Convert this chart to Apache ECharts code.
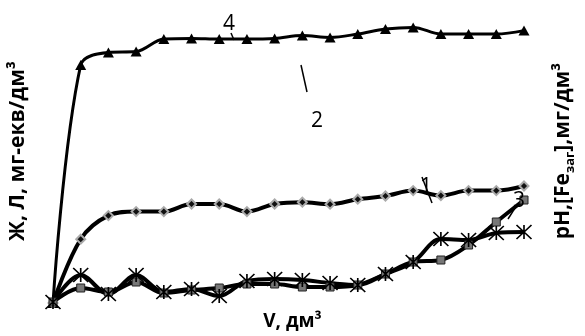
<!DOCTYPE html>
<html><head><meta charset="utf-8">
<script src="https://cdn.jsdelivr.net/npm/echarts@6/dist/echarts.min.js"></script>
<style>html,body{margin:0;padding:0;background:#fff}#c{width:585px;height:336px}</style>
</head><body><div id="c"></div>
<script>
const volumes = ['0','1','2','3','4','5','6','7','8','9','10','11','12','13','14','15','16','17'];
const curve4 = [0, 11.9, 12.53, 12.57, 13.2, 13.23, 13.2, 13.2, 13.23, 13.37, 13.28, 13.45, 13.7, 13.78, 13.45, 13.45, 13.45, 13.62];
const curve1 = [0, 3.19, 4.37, 4.57, 4.57, 4.95, 4.95, 4.57, 4.95, 5.04, 4.94, 5.19, 5.35, 5.62, 5.37, 5.62, 5.62, 5.85];
const curve2 = [0.05, 1.4, 0.45, 1.4, 0.55, 0.7, 0.35, 1.1, 1.2, 1.15, 1.0, 0.9, 1.45, 2.05, 3.2, 3.15, 3.5, 3.55];
const curve3 = [0.05, 0.75, 0.55, 1.05, 0.5, 0.65, 0.75, 0.95, 0.95, 0.8, 0.8, 0.9, 1.45, 2.05, 2.15, 2.9, 4.05, 5.15];
const labelTexts = ['4', '2', '1', '3'];

const FONT = '"Open Sans", "DejaVu Sans", sans-serif';
const asterisk = 'path://M0,0 L20,18 M0,18 L20,0 M10,0 L10,18';
const chart = echarts.init(document.getElementById('c'), null, {renderer: 'canvas'});
const numStyle = (t, x, y) => ({type: 'text', x: x, y: y, z: 100,
  style: {text: t, font: '21px ' + FONT, fill: '#000', textAlign: 'center', textVerticalAlign: 'middle'}});
const tick = (x1, y1, x2, y2) => ({type: 'line', z: 100, shape: {x1: x1, y1: y1, x2: x2, y2: y2},
  style: {stroke: '#000', lineWidth: 1.5}});
chart.setOption({
  animation: false,
  backgroundColor: '#fff',
  grid: {left: 53, right: 51, top: 23, bottom: 33},
  xAxis: {
    type: 'category', data: volumes, boundaryGap: false,
    axisLine: {show: false}, axisTick: {show: false}, axisLabel: {show: false}, splitLine: {show: false},
    name: 'V, дм³', nameLocation: 'middle', nameGap: 9,
    nameTextStyle: {fontFamily: FONT, fontWeight: 'bold', fontSize: 19, color: '#000', padding: [0, 0, 0, 8]}
  },
  yAxis: [{
    type: 'value', min: 0, max: 14,
    axisLine: {show: false}, axisTick: {show: false}, axisLabel: {show: false}, splitLine: {show: false},
    name: 'Ж, Л, мг-екв/дм³', nameLocation: 'middle', nameGap: 24, nameRotate: 90,
    nameTextStyle: {fontFamily: FONT, fontWeight: 'bold', fontSize: 21, color: '#000', padding: [0, 0, 0, 24]}
  }, {
    type: 'value', min: 0, max: 14, position: 'right',
    axisLine: {show: false}, axisTick: {show: false}, axisLabel: {show: false}, splitLine: {show: false},
    name: '{a|pH,[Fe}{s|заг}{a|],мг/дм³}', nameLocation: 'middle', nameGap: 26, nameRotate: 90,
    nameTextStyle: {fontFamily: FONT, fontWeight: 'bold', fontSize: 21, color: '#000', padding: [0, 0, 0, 24],
      rich: {
        a: {fontFamily: FONT, fontWeight: 'bold', fontSize: 21, color: '#000', lineHeight: 27},
        s: {fontFamily: FONT, fontWeight: 'bold', fontSize: 13, color: '#000', verticalAlign: 'bottom', lineHeight: 14}
      }}
  }],
  series: [
    {name: '4', type: 'line', data: curve4, smooth: 0.35, symbol: 'triangle', symbolSize: [11, 10],
     lineStyle: {color: '#000', width: 3}, itemStyle: {color: '#000'}},
    {name: '1', type: 'line', data: curve1, smooth: 0.35, symbol: 'diamond', symbolSize: 9,
     lineStyle: {color: '#000', width: 4}, itemStyle: {color: '#111', borderColor: '#aaa', borderWidth: 2}},
    {name: '3', type: 'line', data: curve3, smooth: 0.35, symbol: 'rect', symbolSize: 8,
     lineStyle: {color: '#000', width: 4}, itemStyle: {color: '#777', borderColor: '#222', borderWidth: 1}},
    {name: '2', type: 'line', data: curve2, smooth: 0.35, symbol: asterisk, symbolSize: [15, 14],
     lineStyle: {color: '#000', width: 4}, itemStyle: {color: 'rgba(0,0,0,0)', borderColor: '#000', borderWidth: 1.6}}
  ],
  graphic: [
    numStyle(labelTexts[0], 229, 24),
    tick(231, 33, 234, 40),
    tick(301, 65, 307, 92),
    numStyle(labelTexts[1], 317, 121),
    numStyle(labelTexts[2], 426, 187),
    tick(422, 177, 432, 203),
    numStyle(labelTexts[3], 519, 201),
    tick(515, 208, 508, 219)
  ]
});
</script></body></html>
